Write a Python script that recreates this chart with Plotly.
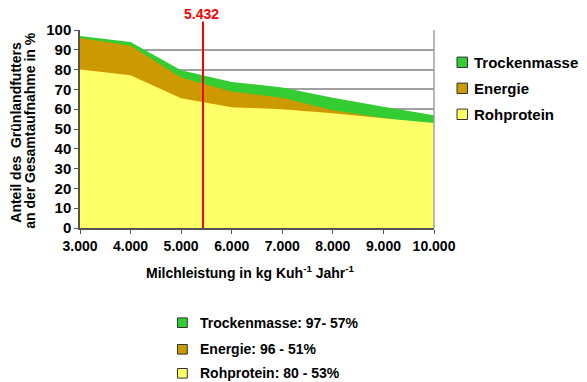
import plotly.graph_objects as go

milk = [3000, 4000, 5000, 6000, 7000, 8000, 9000, 10000]
tick_labels = ["3.000", "4.000", "5.000", "6.000", "7.000", "8.000", "9.000", "10.000"]
trockenmasse = [97, 94, 79.7, 73.8, 71, 65.8, 61.2, 57]
energie = [96, 92, 76, 69, 65.8, 59.5, 55.5, 51]
rohprotein = [80, 77.2, 65.5, 61, 60, 57.9, 55.4, 53]
marker_value = 5432
marker_label = "5.432"

series_names = ["Trockenmasse", "Energie", "Rohprotein"]
series_colors = ["#33CC33", "#CC9900", "#FFFF66"]
bottom_labels = ["Trockenmasse: 97- 57%", "Energie: 96 - 51%", "Rohprotein: 80 - 53%"]

W, H = 587, 382
L, R, T, B = 80, 153, 30, 154
PW, PH = W - L - R, H - T - B

def px(x):
    return (x - L) / PW

def py(y):
    return (H - B - y) / PH

fig = go.Figure()
for name, vals, col in zip(series_names, [trockenmasse, energie, rohprotein], series_colors):
    fig.add_trace(go.Scatter(x=milk, y=vals, name=name, mode="lines", fill="tozeroy",
                             fillcolor=col, line=dict(width=0, color=col), showlegend=False,
                             hoverinfo="skip"))

font = "Liberation Sans, Arial, sans-serif"
shapes = []
annotations = []

# right border
shapes.append(dict(type="line", xref="paper", yref="paper", x0=1, x1=1, y0=0, y1=1,
                   line=dict(color="#A0A0A0", width=1.5)))
# red marker line
shapes.append(dict(type="line", xref="x", yref="paper", x0=marker_value, x1=marker_value,
                   y0=0, y1=py(21.5), line=dict(color="#FF0000", width=2)))
annotations.append(dict(x=marker_value, xref="x", y=py(14), yref="paper", text="<b>%s</b>" % marker_label,
                        showarrow=False, xshift=-1, font=dict(color="#FF0000", size=14, family=font),
                        xanchor="center", yanchor="middle"))

# right legend
for i, (name, col) in enumerate(zip(series_names, series_colors)):
    cy = 62.3 + 26 * i
    shapes.append(dict(type="rect", xref="paper", yref="paper", x0=px(457), x1=px(467.5),
                       y0=py(cy + 5.2), y1=py(cy - 5.2), fillcolor=col,
                       line=dict(color="#333333", width=1)))
    annotations.append(dict(x=px(472), xref="paper", y=py(cy), yref="paper", text="<b>%s</b>" % name,
                            showarrow=False, xanchor="left", yanchor="middle",
                            font=dict(size=15, family=font, color="black")))

# bottom legend
for i, (lab, col) in enumerate(zip(bottom_labels, series_colors)):
    cy = [322.7, 349.3, 373.3][i]
    shapes.append(dict(type="rect", xref="paper", yref="paper", x0=px(177.5), x1=px(187.3),
                       y0=py(cy + 4.8), y1=py(cy - 4.8), fillcolor=col,
                       line=dict(color="#333333", width=1)))
    annotations.append(dict(x=px(198), xref="paper", y=py(cy), yref="paper", text="<b>%s</b>" % lab,
                            showarrow=False, xanchor="left", yanchor="middle",
                            font=dict(size=14, family=font, color="black")))

# y axis title (two lines)
annotations.append(dict(x=px(16), xref="paper", y=py(132.7), yref="paper",
                        text="<b>Anteil des  Grünlandfutters</b>", textangle=-90, showarrow=False,
                        xanchor="center", yanchor="middle", font=dict(size=14, family=font, color="black")))
annotations.append(dict(x=px(29.3), xref="paper", y=py(130.5), yref="paper",
                        text="<b>an der Gesamtaufnahme in %</b>", textangle=-90, showarrow=False,
                        xanchor="center", yanchor="middle", font=dict(size=14, family=font, color="black")))
# x axis title
annotations.append(dict(x=px(250), xref="paper", y=py(272), yref="paper",
                        text="<b>Milchleistung in kg Kuh<sup>-1</sup> Jahr<sup>-1</sup></b>", showarrow=False,
                        xanchor="center", yanchor="middle", font=dict(size=14, family=font, color="black")))

fig.update_layout(
    width=W, height=H, margin=dict(l=L, r=R, t=T, b=B),
    paper_bgcolor="white", plot_bgcolor="white",
    shapes=shapes, annotations=annotations, showlegend=False,
    font=dict(family=font, size=14, color="black"),
    xaxis=dict(range=[3000, 10000], tickvals=milk, ticktext=["<b>%s</b>" % t for t in tick_labels],
               showgrid=False, zeroline=False, showline=True, linecolor="#555555", linewidth=1.5,
               ticks="outside", ticklen=4, tickcolor="#555555", tickfont=dict(size=14)),
    yaxis=dict(range=[0, 100], tickvals=list(range(0, 101, 10)),
               ticktext=["<b>%d</b>" % v for v in range(0, 101, 10)],
               showgrid=True, gridcolor="#A0A0A0", gridwidth=1.5, zeroline=False,
               showline=True, linecolor="#555555", linewidth=1.5,
               ticks="outside", ticklen=4, tickcolor="#555555", tickfont=dict(size=15)),
)
fig.write_html("out.html", config={"displayModeBar": False},
               post_script="document.body.style.margin='0';document.body.style.overflow='hidden';")
